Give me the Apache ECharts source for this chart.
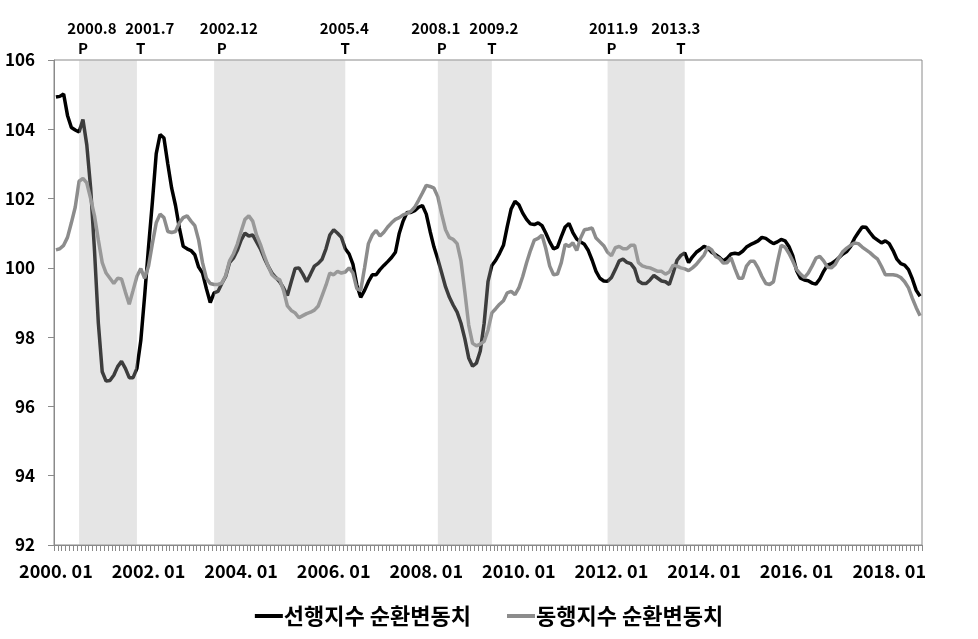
<!DOCTYPE html>
<html>
<head>
<meta charset="utf-8">
<script src="https://cdn.jsdelivr.net/npm/echarts@6/dist/echarts.min.js"></script>
<style>html,body{margin:0;padding:0;background:#fff}#c{width:978px;height:639px}</style>
</head>
<body>
<div id="c"></div>
<script>
// Monthly categories 2000.01 .. 2018.09
const months = [];
for (let y = 2000; y <= 2018; y++) {
  for (let m = 1; m <= 12; m++) {
    if (y === 2018 && m > 9) break;
    months.push(y + '. ' + (m < 10 ? '0' + m : '' + m));
  }
}

// 선행지수 순환변동치 (leading index, cyclical component)
const leading = [
104.93,104.95,105.02,104.4,104.05,103.98,103.92,104.28,103.55,102.3,
100.5,98.4,97.0,96.73,96.75,96.9,97.15,97.3,97.1,96.83,
96.83,97.1,97.9,99.2,100.6,101.9,103.3,103.85,103.75,103.0,
102.3,101.8,101.15,100.62,100.55,100.5,100.38,100.02,99.85,99.4,
99.0,99.28,99.32,99.55,99.75,100.15,100.28,100.5,100.8,101.0,
100.92,100.95,100.75,100.55,100.28,100.05,99.85,99.72,99.6,99.42,
99.2,99.6,99.98,100.0,99.82,99.6,99.82,100.05,100.13,100.25,
100.55,100.95,101.1,101.0,100.88,100.55,100.4,100.1,99.5,99.15,
99.35,99.6,99.8,99.8,99.95,100.07,100.18,100.3,100.45,101.0,
101.35,101.6,101.6,101.65,101.75,101.8,101.55,101.05,100.6,100.25,
99.85,99.45,99.15,98.92,98.72,98.4,97.95,97.4,97.16,97.25,
97.6,98.4,99.6,100.07,100.22,100.42,100.65,101.2,101.7,101.92,
101.82,101.58,101.4,101.27,101.25,101.3,101.22,101.0,100.75,100.55,
100.6,100.9,101.18,101.28,101.02,100.83,100.75,100.68,100.5,100.22,
99.9,99.7,99.62,99.61,99.72,99.95,100.2,100.25,100.16,100.12,
99.98,99.62,99.55,99.55,99.65,99.78,99.7,99.62,99.6,99.52,
99.85,100.22,100.36,100.43,100.15,100.32,100.45,100.53,100.62,100.57,
100.45,100.38,100.3,100.2,100.28,100.4,100.42,100.4,100.48,100.6,
100.67,100.72,100.78,100.88,100.85,100.77,100.7,100.75,100.82,100.78,
100.62,100.35,99.92,99.7,99.65,99.63,99.56,99.53,99.68,99.9,
100.08,100.12,100.2,100.3,100.4,100.47,100.62,100.85,101.02,101.18,
101.17,101.02,100.88,100.8,100.72,100.78,100.7,100.5,100.25,100.12,
100.08,99.95,99.68,99.35,99.18
];

// 동행지수 순환변동치 (coincident index, cyclical component)
const coincident = [
100.52,100.55,100.65,100.88,101.3,101.75,102.5,102.58,102.45,102.0,
101.5,100.8,100.15,99.85,99.7,99.55,99.7,99.68,99.3,98.95,
99.35,99.76,99.98,99.7,100.05,100.7,101.3,101.55,101.45,101.05,
101.02,101.05,101.3,101.45,101.5,101.35,101.22,100.8,100.15,99.7,
99.55,99.52,99.52,99.56,99.78,100.2,100.4,100.68,101.05,101.4,
101.5,101.35,100.95,100.68,100.35,100.05,99.8,99.7,99.66,99.35,
98.9,98.77,98.7,98.56,98.62,98.68,98.72,98.78,98.9,99.2,
99.5,99.85,99.8,99.9,99.85,99.88,100.0,99.85,99.4,99.35,
100.0,100.7,100.95,101.08,100.92,101.03,101.18,101.3,101.4,101.45,
101.53,101.57,101.63,101.75,101.95,102.16,102.38,102.35,102.3,102.05,
101.55,101.1,100.87,100.82,100.7,100.2,99.3,98.35,97.82,97.75,
97.8,97.88,98.2,98.7,98.82,98.95,99.05,99.28,99.32,99.23,
99.42,99.75,100.15,100.5,100.8,100.85,100.95,100.55,100.05,99.8,
99.82,100.15,100.68,100.62,100.72,100.5,100.86,101.1,101.12,101.15,
100.86,100.75,100.64,100.45,100.35,100.58,100.62,100.55,100.55,100.65,
100.65,100.15,100.06,100.02,100.0,99.95,99.9,99.9,99.82,99.88,
100.08,100.05,100.0,99.97,99.92,100.0,100.1,100.24,100.37,100.6,
100.52,100.33,100.27,100.14,100.15,100.29,99.98,99.7,99.7,100.05,
100.19,100.19,100.0,99.75,99.55,99.52,99.6,100.15,100.65,100.6,
100.42,100.2,99.95,99.82,99.72,99.85,100.05,100.28,100.33,100.2,
100.02,100.0,100.1,100.3,100.47,100.57,100.65,100.72,100.7,100.6,
100.52,100.44,100.34,100.25,100.04,99.8,99.8,99.8,99.78,99.72,
99.6,99.42,99.12,98.85,98.62
];

// Turning-point annotations (peak P / trough T)
const turnDates = ['2000.8','2001.7','2002.12','2005.4','2008.1','2009.2','2011.9','2013.3'];
const turnTypes = ['P','T','P','T','P','T','P','T'];
// category index where each turning mark is drawn
const turnAt = [7, 22, 43, 75, 100, 113, 144, 162];
// shaded phases: [start index, end index]
const shadeStart = [6, 41, 99, 143];
const shadeEnd = [21, 75, 113, 163];

const yTicks = [92, 94, 96, 98, 100, 102, 104, 106];

// ---- layout / style (not data) ----
const yearShift = [9, 9, 7, -1, -6, 2, 2, -5];
const FONT = '"Noto Sans CJK KR", "Noto Sans", sans-serif';

const areaData = shadeStart.map((s, i) => [{ xAxis: s }, { xAxis: shadeEnd[i] }]);
const pointData = [];
turnAt.forEach((idx, i) => {
  pointData.push({ coord: [idx, yTicks[yTicks.length - 1]], label: { formatter: turnTypes[i], offset: [0, -12] } });
  pointData.push({ coord: [idx, yTicks[yTicks.length - 1]], label: { formatter: turnDates[i], offset: [yearShift[i], -32] } });
});

const chart = echarts.init(document.getElementById('c'), null, { renderer: 'canvas' });
chart.setOption({
  animation: false,
  backgroundColor: '#ffffff',
  grid: { left: 54, right: 56, top: 60, bottom: 94, show: true, borderColor: '#8a8a8a', borderWidth: 1, backgroundColor: 'transparent' },
  legend: {
    top: 600, left: 'center',
    icon: 'rect', itemWidth: 28, itemHeight: 4, itemGap: 36,
    data: ['선행지수 순환변동치', '동행지수 순환변동치'],
    textStyle: { fontFamily: FONT, fontSize: 22, fontWeight: 'bold', color: '#000', padding: [0, 0, 0, -4] }
  },
  xAxis: {
    type: 'category',
    data: months,
    boundaryGap: true,
    axisLine: { lineStyle: { color: '#8a8a8a', width: 1 } },
    axisTick: { show: true, interval: 0, length: 6, lineStyle: { color: '#8a8a8a' } },
    axisLabel: { interval: 23, margin: 17, fontFamily: FONT, fontSize: 18, fontWeight: 'bold', color: '#000' },
    splitLine: { show: false }
  },
  yAxis: {
    type: 'value', min: yTicks[0], max: yTicks[yTicks.length - 1], interval: 2,
    axisLine: { show: true, lineStyle: { color: '#8a8a8a', width: 1 } },
    axisTick: { show: true, length: 6, lineStyle: { color: '#8a8a8a' } },
    axisLabel: { margin: 19, fontFamily: FONT, fontSize: 17, fontWeight: 'bold', color: '#000' },
    splitLine: { show: false }
  },
  series: [
    {
      name: '선행지수 순환변동치', type: 'line', data: leading,
      showSymbol: false, symbol: 'none', smooth: false,
      lineStyle: { color: '#000000', width: 3.5 }, itemStyle: { color: '#000000' }, z: 3
    },
    {
      name: '동행지수 순환변동치', type: 'line', data: coincident,
      showSymbol: false, symbol: 'none', smooth: false,
      lineStyle: { color: '#8c8c8c', width: 3.5 }, itemStyle: { color: '#8c8c8c' }, z: 4,
      markArea: {
        silent: true, z: 10,
        itemStyle: { color: 'rgba(178,178,178,0.34)', borderWidth: 0 },
        label: { show: false },
        data: areaData
      },
      markPoint: {
        silent: true, z: 11,
        symbol: 'circle', symbolSize: 1,
        itemStyle: { color: 'rgba(0,0,0,0)' },
        label: { show: true, position: 'inside', fontFamily: FONT, fontSize: 15, fontWeight: 'bold', color: '#000' },
        data: pointData
      }
    }
  ]
});
</script>
</body>
</html>
